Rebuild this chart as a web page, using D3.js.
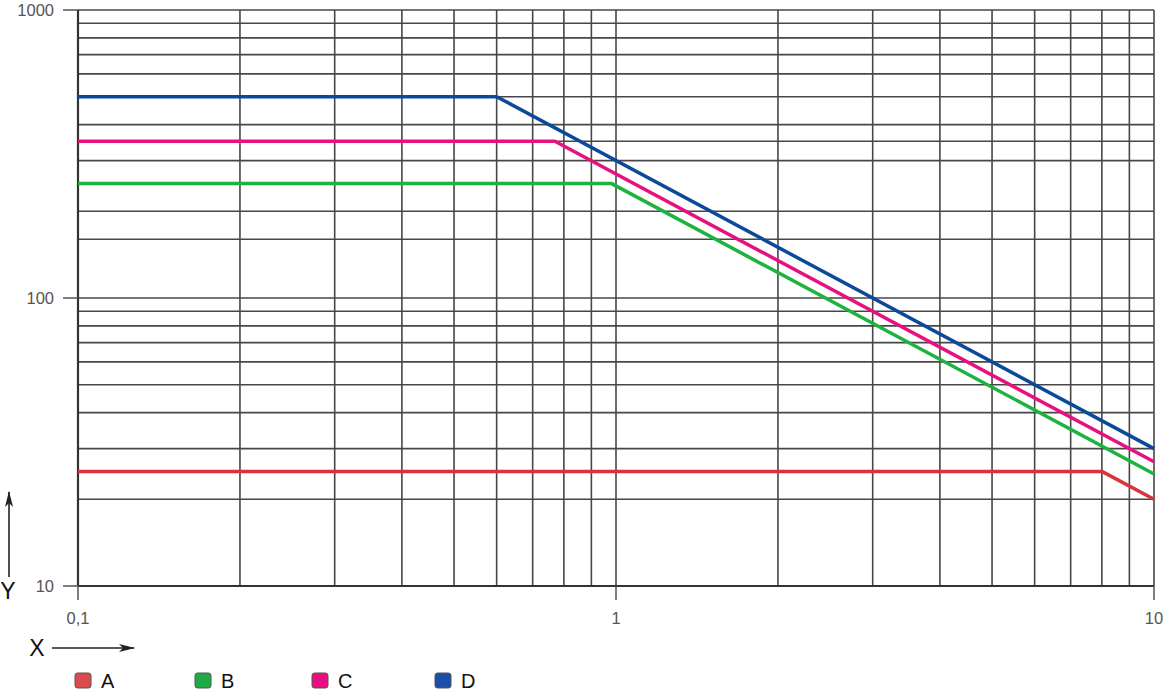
<!DOCTYPE html>
<html lang="en">
<head>
    <meta charset="UTF-8">
    <title>Log-log chart</title>
    <script src="https://d3js.org/d3.v7.min.js"></script>
    <style>
        body {
            margin: 0;
            padding: 0;
            background: #fff;
            font-family: "Liberation Sans", Arial, sans-serif;
        }
        .grid line {
            stroke: #474747;
            stroke-width: 1.6px;
        }
        .tick-label {
            font-size: 16.5px;
            fill: #555;
        }
        .series {
            fill: none;
            stroke-width: 3.5px;
            stroke-linejoin: round;
        }
        .legend-text {
            font-size: 20px;
            fill: #111;
        }
    </style>
</head>
<body>
    <script>
        // series data (x, y pairs)
        const seriesNames = ['A', 'B', 'C', 'D'];
        const lineColors = ['#d9333b', '#1db33e', '#e8107f', '#0b4a9b'];
        const legendColors = ['#d94b4d', '#1faa45', '#e8107f', '#1a4ea8'];
        const xA = [0.1, 8, 10],     yA = [25, 25, 20];
        const xB = [0.1, 0.98, 10],  yB = [250, 250, 24.5];
        const xC = [0.1, 0.77, 10],  yC = [350, 350, 27];
        const xD = [0.1, 0.6, 10],   yD = [500, 500, 30];

        // grid and ticks
        const xGrid = [0.1, 0.2, 0.3, 0.4, 0.5, 0.6, 0.7, 0.8, 0.9, 1, 2, 3, 4, 5, 6, 7, 8, 9, 10];
        const yGrid = [10, 20, 30, 40, 50, 60, 70, 80, 90, 100, 160, 200, 300, 350, 400, 500, 600, 700, 800, 900, 1000];
        const xTicks = [0.1, 1, 10];
        const xTickLabels = ['0,1', '1', '10'];
        const yTicks = [10, 100, 1000];
        const yTickLabels = ['10', '100', '1000'];

        const width = 1170, height = 695;
        const plotLeft = 78, plotRight = 1154, plotTop = 10, plotBottom = 586;

        const x = d3.scaleLog().domain([0.1, 10]).range([plotLeft, plotRight]);
        const y = d3.scaleLog().domain([10, 1000]).range([plotBottom, plotTop]);

        const svg = d3.select('body').append('svg')
            .attr('width', width)
            .attr('height', height);

        const defs = svg.append('defs');
        defs.append('marker')
            .attr('id', 'arrow')
            .attr('viewBox', '0 0 16 8')
            .attr('refX', 15).attr('refY', 4)
            .attr('markerWidth', 16).attr('markerHeight', 8)
            .attr('markerUnits', 'userSpaceOnUse')
            .attr('orient', 'auto')
            .append('path')
            .attr('d', 'M0,0 L16,4 L0,8 L4,4 Z')
            .attr('fill', '#222');

        // grid
        const grid = svg.append('g').attr('class', 'grid');
        grid.selectAll('line.v')
            .data(xGrid)
            .enter().append('line')
            .attr('class', 'v')
            .attr('x1', d => x(d)).attr('x2', d => x(d))
            .attr('y1', plotTop).attr('y2', plotBottom);
        grid.selectAll('line.h')
            .data(yGrid)
            .enter().append('line')
            .attr('class', 'h')
            .attr('x1', plotLeft).attr('x2', plotRight)
            .attr('y1', d => y(d)).attr('y2', d => y(d));

        // frame on the left and bottom is a bit darker
        svg.append('line')
            .attr('x1', plotLeft).attr('x2', plotLeft).attr('y1', plotTop).attr('y2', plotBottom)
            .attr('stroke', '#333').attr('stroke-width', 2.2);
        svg.append('line')
            .attr('x1', plotLeft).attr('x2', plotRight).attr('y1', plotBottom).attr('y2', plotBottom)
            .attr('stroke', '#333').attr('stroke-width', 2);

        // ticks outside the plot
        svg.append('g').selectAll('line')
            .data(yTicks)
            .enter().append('line')
            .attr('x1', plotLeft - 15).attr('x2', plotLeft)
            .attr('y1', d => y(d)).attr('y2', d => y(d))
            .attr('stroke', '#555').attr('stroke-width', 1.5);
        svg.append('g').selectAll('text')
            .data(yTicks)
            .enter().append('text')
            .attr('class', 'tick-label')
            .attr('x', plotLeft - 24)
            .attr('y', d => y(d))
            .attr('dy', '0.36em')
            .attr('text-anchor', 'end')
            .text((d, i) => yTickLabels[i]);

        svg.append('g').selectAll('line')
            .data(xTicks)
            .enter().append('line')
            .attr('x1', d => x(d)).attr('x2', d => x(d))
            .attr('y1', plotBottom).attr('y2', plotBottom + 14)
            .attr('stroke', '#555').attr('stroke-width', 1.5);
        svg.append('g').selectAll('text')
            .data(xTicks)
            .enter().append('text')
            .attr('class', 'tick-label')
            .attr('x', d => x(d))
            .attr('y', plotBottom + 38)
            .attr('text-anchor', 'middle')
            .text((d, i) => xTickLabels[i]);

        // series lines
        const line = d3.line()
            .x(d => x(d[0]))
            .y(d => y(d[1]));
        const seriesData = [
            d3.zip(xA, yA),
            d3.zip(xB, yB),
            d3.zip(xC, yC),
            d3.zip(xD, yD)
        ];
        svg.append('g').selectAll('path')
            .data(seriesData)
            .enter().append('path')
            .attr('class', 'series')
            .attr('stroke', (d, i) => lineColors[i])
            .attr('d', line);

        // axis name arrows
        svg.append('line')
            .attr('x1', 9).attr('x2', 9).attr('y1', 577).attr('y2', 492)
            .attr('stroke', '#222').attr('stroke-width', 1.6)
            .attr('marker-end', 'url(#arrow)');
        svg.append('text')
            .attr('x', 8).attr('y', 599)
            .attr('text-anchor', 'middle')
            .attr('font-size', 23)
            .attr('fill', '#111')
            .text('Y');
        svg.append('line')
            .attr('x1', 52).attr('x2', 134).attr('y1', 648).attr('y2', 648)
            .attr('stroke', '#222').attr('stroke-width', 1.6)
            .attr('marker-end', 'url(#arrow)');
        svg.append('text')
            .attr('x', 37).attr('y', 656)
            .attr('text-anchor', 'middle')
            .attr('font-size', 23)
            .attr('fill', '#111')
            .text('X');

        // legend
        const legendX = [75, 195, 312, 435];
        const legend = svg.append('g').selectAll('g')
            .data(seriesNames)
            .enter().append('g')
            .attr('transform', (d, i) => `translate(${legendX[i]},673)`);
        legend.append('rect')
            .attr('width', 16).attr('height', 15)
            .attr('rx', 2.5)
            .attr('fill', (d, i) => legendColors[i])
            .attr('stroke', '#555')
            .attr('stroke-width', 1);
        legend.append('text')
            .attr('class', 'legend-text')
            .attr('x', 26)
            .attr('y', 15)
            .text(d => d);
    </script>
</body>
</html>
